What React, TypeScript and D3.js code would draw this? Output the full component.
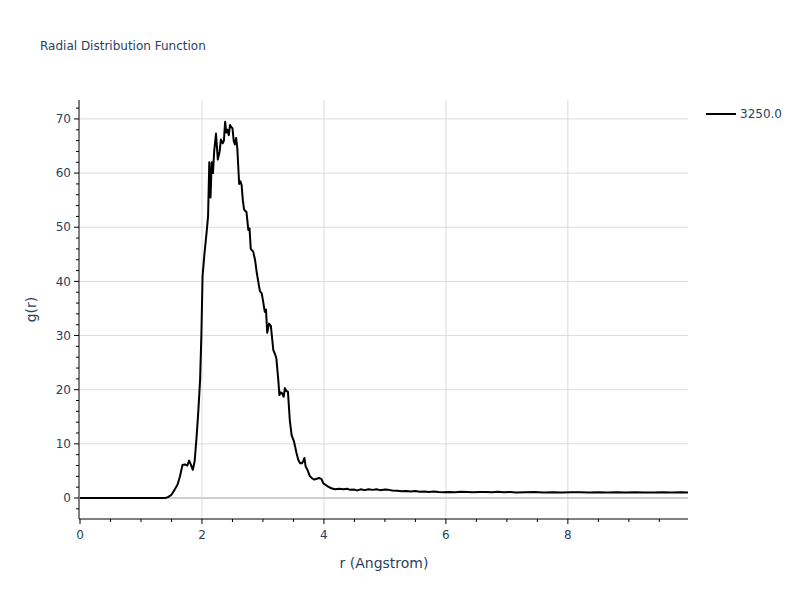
import { useEffect, useRef } from 'react'
import * as d3 from 'd3'

// r (Angstrom) sample positions and g(r) values
const rValues = [
  0, 1.40, 1.45, 1.50, 1.55, 1.60, 1.64, 1.68, 1.72, 1.76, 1.79, 1.82, 1.85, 1.88, 1.91, 1.94,
  1.97, 1.99, 2.01, 2.04, 2.08, 2.10, 2.12, 2.14, 2.16, 2.18, 2.20, 2.23, 2.26, 2.29, 2.31,
  2.34, 2.36, 2.38, 2.40, 2.42, 2.44, 2.46, 2.48, 2.50, 2.52, 2.54, 2.56, 2.58, 2.61, 2.63,
  2.65, 2.67, 2.69, 2.71, 2.73, 2.76, 2.78, 2.80, 2.84, 2.87, 2.90, 2.93, 2.95, 2.98, 3.00,
  3.03, 3.05, 3.07, 3.10, 3.13, 3.15, 3.17, 3.20, 3.22, 3.25, 3.27, 3.29, 3.31, 3.34, 3.36,
  3.38, 3.41, 3.44, 3.47, 3.51, 3.55, 3.58, 3.61, 3.64, 3.66, 3.68, 3.70, 3.73, 3.77, 3.81,
  3.84, 3.87, 3.92, 3.96, 3.99, 4.03, 4.07, 4.12, 4.18, 4.25, 4.32, 4.38, 4.43, 4.50, 4.55,
  4.60, 4.67, 4.73, 4.80, 4.86, 4.92, 5.00, 5.06, 5.12, 5.20, 5.28, 5.35, 5.42, 5.50, 5.57,
  5.65, 5.72, 5.80, 5.88, 5.95, 6.05, 6.15, 6.25, 6.35, 6.45, 6.55, 6.65, 6.75, 6.85, 6.95,
  7.05, 7.15, 7.30, 7.45, 7.60, 7.75, 7.90, 8.05, 8.20, 8.35, 8.50, 8.65, 8.80, 8.95, 9.10,
  9.25, 9.40, 9.55, 9.70, 9.85, 9.97,
]
const gValues = [
  0, 0, 0.2, 0.6, 1.5, 2.5, 4.0, 6.1, 6.2, 6.0, 6.9, 6.1, 5.2, 6.8, 11, 16,
  22, 30, 41, 45, 49.5, 52, 62, 55.5, 62, 60, 64, 67.3, 62.5, 64, 66.2,
  65.5, 66, 69.5, 67.5, 68, 67, 68.9, 68.5, 68.3, 66, 65.3, 66.5, 64.5, 58, 58.5,
  57.8, 55, 53.3, 53, 52.8, 49.5, 49.8, 46, 45.5, 44, 41.5, 39.5, 38.2, 37.8, 36.5,
  34.4, 34.8, 30.5, 32.2, 31.8, 29.5, 27.3, 26.5, 25.8, 22, 19, 19.5, 19.4, 18.7, 20.3,
  19.8, 19.6, 14.4, 11.6, 10.4, 8.3, 7.0, 6.4, 6.4, 6.8, 7.4, 5.8, 5.2, 4.0, 3.6,
  3.4, 3.5, 3.7, 3.5, 2.7, 2.4, 2.1, 1.8, 1.6, 1.7, 1.6, 1.7, 1.5, 1.55, 1.4,
  1.6, 1.45, 1.6, 1.5, 1.6, 1.45, 1.55, 1.5, 1.4, 1.35, 1.25, 1.3, 1.2, 1.3, 1.15,
  1.2, 1.1, 1.2, 1.1, 1.05, 1.1, 1.05, 1.15, 1.1, 1.05, 1.1, 1.1, 1.05, 1.15, 1.05,
  1.1, 1.0, 1.05, 1.1, 1.0, 1.05, 1.0, 1.05, 1.05, 1.0, 1.05, 1.0, 1.05, 1.0, 1.05,
  1.0, 1.0, 1.05, 1.0, 1.05, 1.0,
]
const xTicks = [0, 2, 4, 6, 8]
const yTicks = [0, 10, 20, 30, 40, 50, 60, 70]
const seriesName = '3250.0'

const FONT = '"DejaVu Sans", verdana, arial, sans-serif'
const TEXT = '#2a3f5f'

export default function App() {
  const svgRef = useRef<SVGSVGElement>(null)

  useEffect(() => {
    if (!svgRef.current) return
    const width = 800
    const height = 600
    const margin = { top: 100, right: 112, bottom: 81, left: 80 }

    const svg = d3.select(svgRef.current)
    svg.selectAll('*').remove()
    svg.attr('width', width).attr('height', height)

    svg.append('rect').attr('width', width).attr('height', height).attr('fill', '#fff')

    const x = d3.scaleLinear().domain([0, 9.97]).range([margin.left, width - margin.right])
    const y = d3.scaleLinear().domain([-3.88, 73.5]).range([height - margin.bottom, margin.top])

    const data = rValues.map((r, i) => ({ r, g: gValues[i] }))

    // grid
    const grid = svg.append('g')
    grid.selectAll('.vgrid')
      .data(xTicks.filter(t => t > 0))
      .join('line')
      .attr('x1', d => x(d)).attr('x2', d => x(d))
      .attr('y1', margin.top).attr('y2', height - margin.bottom)
      .attr('stroke', '#dcdcdc').attr('stroke-width', 1)
    grid.selectAll('.hgrid')
      .data(yTicks.filter(t => t !== 0))
      .join('line')
      .attr('x1', margin.left).attr('x2', width - margin.right)
      .attr('y1', d => y(d)).attr('y2', d => y(d))
      .attr('stroke', '#dcdcdc').attr('stroke-width', 1)
    // zero line
    grid.append('line')
      .attr('x1', margin.left).attr('x2', width - margin.right)
      .attr('y1', y(0)).attr('y2', y(0))
      .attr('stroke', '#cfcfcf').attr('stroke-width', 2)

    // curve
    const line = d3.line<{ r: number; g: number }>()
      .x(d => x(d.r))
      .y(d => y(d.g))
    svg.append('path')
      .datum(data)
      .attr('d', line)
      .attr('fill', 'none')
      .attr('stroke', '#000')
      .attr('stroke-width', 2)
      .attr('stroke-linejoin', 'round')

    // x axis
    const xAxisY = height - margin.bottom
    const xa = svg.append('g')
    xa.append('line')
      .attr('x1', margin.left - 1).attr('x2', width - margin.right)
      .attr('y1', xAxisY).attr('y2', xAxisY)
      .attr('stroke', '#000').attr('stroke-width', 1)
    const xMinor = d3.range(0, 10, 0.5).filter(v => v % 2 !== 0)
    xa.selectAll('.xminor')
      .data(xMinor)
      .join('line')
      .attr('x1', d => x(d)).attr('x2', d => x(d))
      .attr('y1', xAxisY).attr('y2', xAxisY + 3)
      .attr('stroke', '#000')
    xa.selectAll('.xmajor')
      .data(xTicks)
      .join('line')
      .attr('x1', d => x(d)).attr('x2', d => x(d))
      .attr('y1', xAxisY).attr('y2', xAxisY + 5)
      .attr('stroke', '#000')
    xa.selectAll('.xlabel')
      .data(xTicks)
      .join('text')
      .attr('x', d => x(d))
      .attr('y', xAxisY + 20)
      .attr('text-anchor', 'middle')
      .attr('font-family', FONT).attr('font-size', 12).attr('fill', TEXT)
      .text(d => d)
    svg.append('text')
      .attr('x', (margin.left + width - margin.right) / 2)
      .attr('y', 568)
      .attr('text-anchor', 'middle')
      .attr('font-family', FONT).attr('font-size', 14).attr('fill', TEXT)
      .text('r (Angstrom)')

    // y axis
    const yAxisX = margin.left - 1
    const ya = svg.append('g')
    ya.append('line')
      .attr('x1', yAxisX).attr('x2', yAxisX)
      .attr('y1', margin.top).attr('y2', xAxisY)
      .attr('stroke', '#000').attr('stroke-width', 1)
    const yMinor = d3.range(-2, 74, 2).filter(v => v % 10 !== 0)
    ya.selectAll('.yminor')
      .data(yMinor)
      .join('line')
      .attr('x1', yAxisX - 3).attr('x2', yAxisX)
      .attr('y1', d => y(d)).attr('y2', d => y(d))
      .attr('stroke', '#000')
    ya.selectAll('.ymajor')
      .data(yTicks)
      .join('line')
      .attr('x1', yAxisX - 5).attr('x2', yAxisX)
      .attr('y1', d => y(d)).attr('y2', d => y(d))
      .attr('stroke', '#000')
    ya.selectAll('.ylabel')
      .data(yTicks)
      .join('text')
      .attr('x', yAxisX - 8)
      .attr('y', d => y(d))
      .attr('dy', '0.35em')
      .attr('text-anchor', 'end')
      .attr('font-family', FONT).attr('font-size', 12).attr('fill', TEXT)
      .text(d => d)
    svg.append('text')
      .attr('transform', `translate(36,${(margin.top + xAxisY) / 2}) rotate(-90)`)
      .attr('text-anchor', 'middle')
      .attr('font-family', FONT).attr('font-size', 14).attr('fill', TEXT)
      .text('g(r)')

    // title
    svg.append('text')
      .attr('x', 40).attr('y', 50)
      .attr('font-family', FONT).attr('font-size', 12).attr('fill', TEXT)
      .text('Radial Distribution Function')

    // legend
    const lg = svg.append('g').attr('transform', 'translate(706,114)')
    lg.append('line')
      .attr('x1', 0).attr('x2', 30).attr('y1', 0).attr('y2', 0)
      .attr('stroke', '#000').attr('stroke-width', 2)
    lg.append('text')
      .attr('x', 34).attr('y', 0).attr('dy', '0.35em')
      .attr('font-family', FONT).attr('font-size', 12).attr('fill', TEXT)
      .text(seriesName)
  }, [])

  return (
    <div style={{ position: 'absolute', left: 0, top: 0 }}>
      <svg ref={svgRef} style={{ display: 'block' }} />
    </div>
  )
}
